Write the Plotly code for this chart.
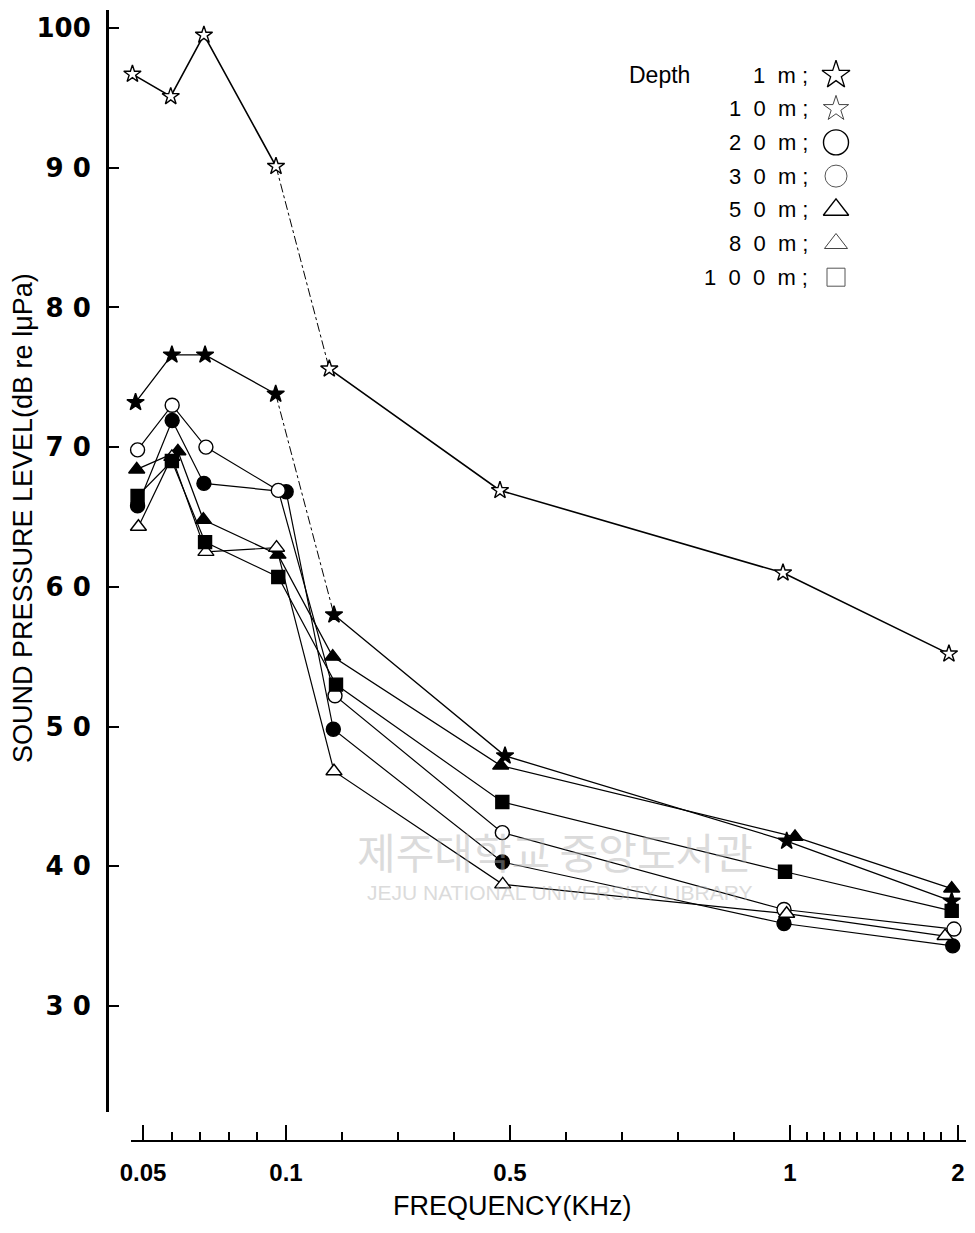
import numpy as np
import plotly.graph_objects as go

# ---- hand-drawn frequency axis: anchor frequencies and their spacing along the axis ----
AXIS_FREQ = [0.05, 0.1, 0.5, 1.0, 2.0]
AXIS_POS = [0.0, 143.0, 367.0, 647.0, 815.0]
MAJOR_TICKS = [0.05, 0.1, 0.5, 1.0, 2.0]
MAJOR_LABELS = ["0.05", "0.1", "0.5", "1", "2"]
MINOR_TICKS = [0.06, 0.07, 0.08, 0.09, 0.2, 0.3, 0.4, 0.6, 0.7, 0.8, 0.9,
               1.1, 1.2, 1.3, 1.4, 1.5, 1.6, 1.7, 1.8, 1.9]

Y_TICKS = [30, 40, 50, 60, 70, 80, 90, 100]
Y_LABELS = ["3 0", "4 0", "5 0", "6 0", "7 0", "8 0", "9 0", "100"]

# ---- data (frequency in kHz, sound pressure level in dB re 1 uPa) ----
DEPTHS = ["1 m", "10 m", "20 m", "30 m", "50 m", "80 m", "100 m"]

freq_1m = [0.0463, 0.0597, 0.0713, 0.0965, 0.1773, 0.4821, 0.9875, 1.946]
spl_1m = [96.7, 95.1, 99.5, 90.1, 75.6, 66.9, 61.0, 55.2]

freq_10m = [0.0474, 0.0601, 0.0717, 0.0964, 0.1857, 0.4911, 0.9941, 1.9625]
spl_10m = [73.2, 76.6, 76.6, 73.8, 58.0, 47.9, 41.8, 37.5]

freq_20m = [0.0481, 0.0602, 0.0713, 0.1003, 0.1845, 0.4863, 0.9893, 1.9685]
spl_20m = [65.8, 71.9, 67.4, 66.8, 49.8, 40.3, 35.9, 34.3]

freq_30m = [0.0481, 0.0602, 0.0720, 0.0973, 0.1875, 0.4863, 0.9893, 1.9762]
spl_30m = [69.8, 73.0, 70.0, 66.9, 52.2, 42.4, 36.9, 35.5]

freq_50m = [0.0478, 0.0622, 0.0711, 0.0972, 0.1834, 0.4834, 1.0298, 1.9625]
spl_50m = [68.4, 69.7, 64.8, 62.3, 55.0, 47.2, 42.1, 38.4]

freq_80m = [0.0484, 0.0601, 0.0720, 0.0967, 0.1857, 0.4870, 0.9940, 1.9230]
spl_80m = [64.3, 69.3, 62.5, 62.8, 46.8, 38.7, 36.6, 35.0]

freq_100m = [0.0481, 0.0601, 0.0717, 0.0973, 0.1893, 0.4863, 0.9911, 1.9625]
spl_100m = [66.5, 69.0, 63.2, 60.7, 53.0, 44.6, 39.6, 36.8]

SERIES_FREQ = [freq_1m, freq_10m, freq_20m, freq_30m, freq_50m, freq_80m, freq_100m]
SERIES_SPL = [spl_1m, spl_10m, spl_20m, spl_30m, spl_50m, spl_80m, spl_100m]

# ---- styles ----
MARKER_SYMBOL = ["star", "star", "circle", "circle", "triangle-up", "triangle-up", "square"]
MARKER_FILL = ["white", "black", "black", "white", "black", "white", "black"]
MARKER_SIZE = [13, 13, 14, 14, 14, 14, 13]
LINE_WIDTH = [1.6, 1.3, 1.2, 1.2, 1.3, 1.2, 1.2]
DASHED_SEGMENT = {0: 3, 1: 3}   # series index -> start index of a dash-dot segment

NB = "\u00a0"
LEGEND_SYMBOL = ["star-open", "star-open", "circle-open", "circle-open",
                 "triangle-up-open", "triangle-up-open", "square-open"]
LEGEND_SIZE = [21, 19, 25, 22, 22, 20, 18]
LEGEND_COLOR = ["black", "#444444", "black", "#555555", "black", "#444444", "#555555"]
LEGEND_WIDTH = [1.3, 1.0, 1.4, 1.0, 1.4, 1.0, 1.0]
LEGEND_TEXT = [
    f"1{NB}{NB}m{NB};",
    f"1{NB}{NB}0{NB}{NB}m{NB};",
    f"2{NB}{NB}0{NB}{NB}m{NB};",
    f"3{NB}{NB}0{NB}{NB}m{NB};",
    f"5{NB}{NB}0{NB}{NB}m{NB};",
    f"8{NB}{NB}0{NB}{NB}m{NB};",
    f"1{NB}{NB}0{NB}{NB}0{NB}{NB}m{NB};",
]

# page has an 8px body margin; figure sized to fit inside the 975x1233 window
PAGE_OFF = 8
W, H = 975 - 2 * PAGE_OFF, 1233 - 2 * PAGE_OFF


def px_x(px):
    return min(max((px - PAGE_OFF) / W, 0.0), 1.0)


def px_y(py):
    return min(max(1 - (py - PAGE_OFF) / H, 0.0), 1.0)


def freq_to_pos(f):
    f = np.atleast_1d(np.asarray(f, dtype=float))
    p = np.interp(f, AXIS_FREQ, AXIS_POS)
    s_lo = (AXIS_POS[1] - AXIS_POS[0]) / (AXIS_FREQ[1] - AXIS_FREQ[0])
    s_hi = (AXIS_POS[-1] - AXIS_POS[-2]) / (AXIS_FREQ[-1] - AXIS_FREQ[-2])
    lo = f < AXIS_FREQ[0]
    hi = f > AXIS_FREQ[-1]
    p[lo] = AXIS_POS[0] + (f[lo] - AXIS_FREQ[0]) * s_lo
    p[hi] = AXIS_POS[-1] + (f[hi] - AXIS_FREQ[-1]) * s_hi
    return p


fig = go.Figure()

# lines
for i, (fr, spl) in enumerate(zip(SERIES_FREQ, SERIES_SPL)):
    x = freq_to_pos(fr)
    y = np.asarray(spl, dtype=float)
    if i in DASHED_SEGMENT:
        k = DASHED_SEGMENT[i]
        parts = [(slice(0, k + 1), "solid"), (slice(k, k + 2), "dashdot"),
                 (slice(k + 1, None), "solid")]
    else:
        parts = [(slice(0, None), "solid")]
    for sl, dash in parts:
        fig.add_trace(go.Scatter(
            x=x[sl], y=y[sl], mode="lines", showlegend=False, hoverinfo="skip",
            line=dict(color="black", width=LINE_WIDTH[i] if dash == "solid" else 1.0, dash=dash),
            cliponaxis=False))

# markers
for i, (fr, spl) in enumerate(zip(SERIES_FREQ, SERIES_SPL)):
    fig.add_trace(go.Scatter(
        x=freq_to_pos(fr), y=spl, mode="markers", name=DEPTHS[i], showlegend=False,
        marker=dict(symbol=MARKER_SYMBOL[i], size=MARKER_SIZE[i], color=MARKER_FILL[i],
                    line=dict(color="black", width=1.4)),
        cliponaxis=False))

# legend keys (separate overlay axes in paper-like units)
leg_top_px, leg_step_px = 75, 33.7
leg_y = [px_y(leg_top_px + k * leg_step_px) for k in range(len(DEPTHS))]
for k in range(len(DEPTHS)):
    fig.add_trace(go.Scatter(
        x=[px_x(836)], y=[leg_y[k]], mode="markers", xaxis="x2", yaxis="y2",
        showlegend=False, hoverinfo="skip",
        marker=dict(symbol=LEGEND_SYMBOL[k], size=LEGEND_SIZE[k], color=LEGEND_COLOR[k],
                    line=dict(color=LEGEND_COLOR[k], width=LEGEND_WIDTH[k])),
        cliponaxis=False))

annotations = []
for k in range(len(DEPTHS)):
    annotations.append(dict(
        text=LEGEND_TEXT[k], x=px_x(810), y=leg_y[k], xref="paper", yref="paper",
        xanchor="right", yanchor="middle", showarrow=False,
        font=dict(family="Liberation Sans", size=22, color="black")))
annotations.append(dict(
    text="Depth", x=px_x(627), y=leg_y[0], xref="paper", yref="paper",
    xanchor="left", yanchor="middle", showarrow=False,
    font=dict(family="Liberation Sans", size=23, color="black")))

# axis titles
annotations.append(dict(
    text="SOUND PRESSURE LEVEL(dB re lμPa)", x=px_x(23), y=px_y(518),
    xref="paper", yref="paper", textangle=-90, showarrow=False,
    xanchor="center", yanchor="middle",
    font=dict(family="Liberation Sans Narrow, Liberation Sans", size=27, color="black")))
annotations.append(dict(
    text="FREQUENCY(KHz)", x=px_x(512), y=px_y(1206),
    xref="paper", yref="paper", showarrow=False, xanchor="center", yanchor="middle",
    font=dict(family="Liberation Sans Narrow, Liberation Sans", size=27, color="black")))

# scan watermark
annotations.append(dict(
    text="제주대학교 중앙도서관", x=px_x(555), y=px_y(850), xref="paper", yref="paper",
    showarrow=False, xanchor="center", yanchor="middle", opacity=0.45,
    font=dict(family="Noto Sans CJK KR", size=42, color="#b0b0b0")))
annotations.append(dict(
    text="JEJU NATIONAL UNIVERSITY LIBRARY", x=px_x(560), y=px_y(892),
    xref="paper", yref="paper", showarrow=False, xanchor="center", yanchor="middle",
    opacity=0.45, font=dict(family="Liberation Sans", size=21, color="#b0b0b0")))

# drawn axis extents in the reference picture (pixels)
x_left_px, x_right_px = 131, 966
y_top_px, y_bot_px = 10, 1112
xaxis_line_px, yaxis_line_px = 1141, 107

# axis ranges from the same calibration (1 position unit per pixel; 13.97 px per dB)
x0 = freq_to_pos(AXIS_FREQ[0])[0] - (143 - x_left_px)
x1 = freq_to_pos(AXIS_FREQ[-1])[0] + (x_right_px - 958)
y_per_px = 10 / 139.7
y_top_val = 100 + (28 - y_top_px) * y_per_px
y_bot_val = 100 - (y_bot_px - 28) * y_per_px

fig.update_layout(
    width=W, height=H, margin=dict(l=0, r=0, t=0, b=0, pad=0), autosize=False,
    paper_bgcolor="white", plot_bgcolor="rgba(0,0,0,0)", showlegend=False,
    annotations=annotations,
    xaxis=dict(
        domain=[px_x(x_left_px), px_x(x_right_px)], range=[x0, x1],
        anchor="free", position=px_y(xaxis_line_px), automargin=False,
        showline=True, linecolor="black", linewidth=2.2,
        showgrid=False, zeroline=False,
        tickmode="array", tickvals=freq_to_pos(MAJOR_TICKS), ticktext=MAJOR_LABELS,
        ticks="inside", ticklen=15, tickwidth=1.8, tickcolor="black",
        ticklabelstandoff=10,
        tickfont=dict(family="Liberation Sans", size=24, color="black", weight="bold"),
        minor=dict(tickmode="array", tickvals=freq_to_pos(MINOR_TICKS),
                   ticks="inside", ticklen=8, tickwidth=1.6, tickcolor="black",
                   showgrid=False),
    ),
    yaxis=dict(
        domain=[px_y(y_bot_px), px_y(y_top_px)], range=[y_bot_val, y_top_val],
        anchor="free", position=px_x(yaxis_line_px), automargin=False,
        showline=True, linecolor="black", linewidth=3,
        showgrid=False, zeroline=False,
        tickmode="array", tickvals=Y_TICKS, ticktext=Y_LABELS,
        ticks="inside", ticklen=10, tickwidth=2.2, tickcolor="black",
        ticklabelstandoff=10,
        tickfont=dict(family="DejaVu Sans", size=26, color="black", weight="bold"),
    ),
    xaxis2=dict(domain=[0, 1], range=[0, 1], anchor="y2", visible=False,
                fixedrange=True, automargin=False),
    yaxis2=dict(domain=[0, 1], range=[0, 1], anchor="x2", visible=False,
                fixedrange=True, automargin=False),
)

fig.write_html("out.html")
